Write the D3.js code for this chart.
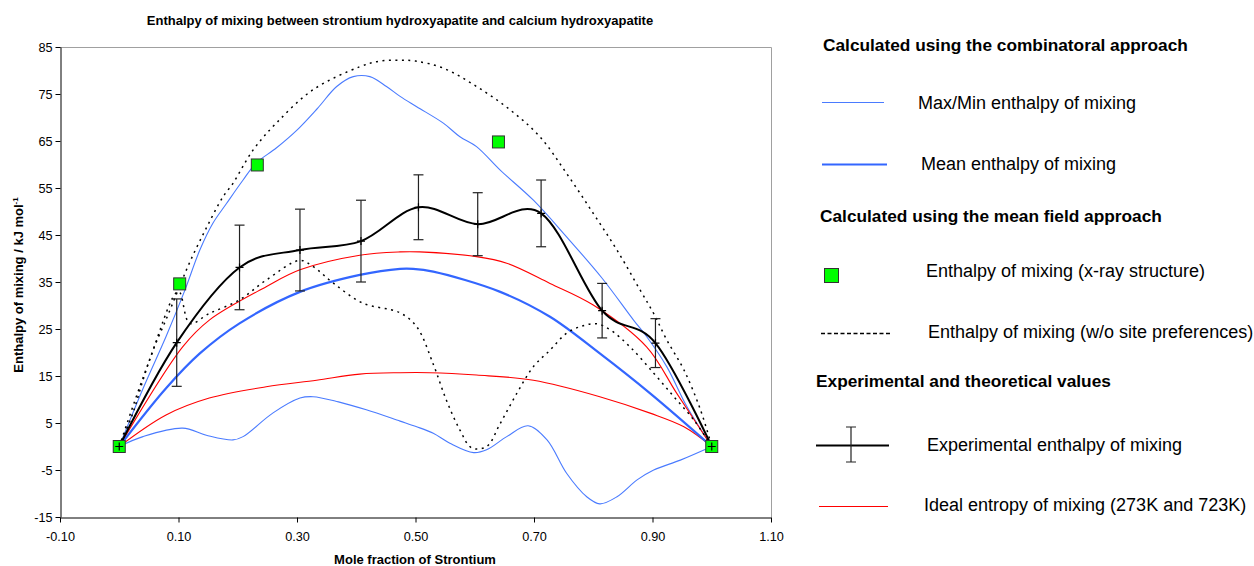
<!DOCTYPE html>
<html>
<head>
<meta charset="utf-8">
<script src="https://cdnjs.cloudflare.com/ajax/libs/d3/7.8.5/d3.min.js"></script>
<style>
  body { margin: 0; background: #fff; }
  svg { font-family: "Liberation Sans", Arial, sans-serif; }
</style>
</head>
<body>
<div id="chart"></div>
<script>
// values: [mole fraction Sr, enthalpy kJ/mol]
const maxLine = [[0,0],[0.04,12.3],[0.079,23.4],[0.11,33],[0.136,41.8],[0.158,47.5],[0.181,51.7],[0.209,56.7],
  [0.231,60.3],[0.265,63.5],[0.299,67.2],[0.335,72],[0.367,76.6],[0.395,78.7],[0.423,78.7],[0.451,76.6],
  [0.474,74.5],[0.502,72.3],[0.547,68.8],[0.575,65.9],[0.603,63.8],[0.643,58.8],[0.699,52.4],[0.755,44.6],
  [0.815,35.8],[0.868,26.9],[0.89,23.4],[0.924,17],[0.958,8.5],[1,0]];
const minLine = [[0,0],[0.04,2.1],[0.107,3.9],[0.147,2.4],[0.192,1.4],[0.209,2.1],[0.259,7.1],[0.305,10.3],
  [0.327,10.6],[0.37,9.5],[0.417,7.8],[0.474,5.4],[0.502,4.2],[0.53,2.8],[0.558,0.7],[0.598,-1.3],[0.62,-0.7],
  [0.654,2.1],[0.69,4.4],[0.722,1.4],[0.755,-5.7],[0.789,-10.7],[0.811,-12.2],[0.84,-10.7],[0.874,-7.1],
  [0.902,-5],[0.947,-2.9],[1,0]];
const meanLine = [[0,0],[0.079,12.4],[0.136,19.8],[0.203,26.2],[0.305,32.9],[0.406,36.5],[0.474,37.8],
  [0.496,37.8],[0.53,37.2],[0.643,32.9],[0.727,27.6],[0.811,19.8],[0.896,11.3],[1,0]];
const ideal723 = [[0,0],[0.107,21.2],[0.152,26.9],[0.248,34],[0.305,37.6],[0.406,40.7],[0.474,41.4],
  [0.507,41.4],[0.603,40.4],[0.654,39],[0.727,34.7],[0.8,30.1],[0.89,21.2],[0.941,11.3],[1,0]];
const ideal273 = [[0,0],[0.079,6.7],[0.152,10.3],[0.248,12.7],[0.333,14.1],[0.406,15.4],[0.474,15.7],
  [0.524,15.7],[0.603,15.2],[0.699,14.1],[0.811,10.6],[0.896,7.1],[0.953,4.2],[1,0]];
const dottedUpper = [[0,0],[0.023,7.1],[0.04,14.1],[0.057,20.5],[0.079,27],[0.1,33.5],[0.12,39.5],[0.147,46.5],
  [0.175,53.1],[0.192,56],[0.226,63.1],[0.265,68.8],[0.327,75.9],[0.406,80.8],[0.44,82],[0.47,82.2],[0.5,82],
  [0.547,80.5],[0.603,76.6],[0.66,71.6],[0.71,65.9],[0.755,58.1],[0.8,49.6],[0.84,41.8],[0.879,33.3],
  [0.902,28.3],[0.924,22.7],[0.953,16.3],[0.981,7.8],[1,0]];
const dottedLower = [[0,0],[0.05,18],[0.1,33],[0.119,26.2],[0.152,28.3],[0.203,31.2],[0.248,35.4],[0.305,39.6],
  [0.327,38.3],[0.361,34.8],[0.411,30.5],[0.473,28.5],[0.502,25.5],[0.53,17.5],[0.552,9.9],[0.575,3.5],
  [0.595,-0.3],[0.62,0],[0.643,4.9],[0.671,11.3],[0.699,17],[0.727,20.5],[0.755,24.1],[0.783,25.7],
  [0.806,26.1],[0.829,24.8],[0.862,21.2],[0.902,15.6],[0.936,10.6],[0.97,5.6],[1,0]];
const xrayX = [0, 0.102, 0.233, 0.64, 1];
const xrayY = [0, 34.6, 59.9, 64.8, 0];
const expX = [0, 0.097, 0.203, 0.305, 0.408, 0.505, 0.605, 0.712, 0.815, 0.905, 1];
const expY = [0, 22.1, 38.1, 41.8, 43.7, 50.9, 47.3, 49.6, 28.9, 22.0, 0];
const expErr = [0, 9.3, 9.0, 8.7, 8.7, 6.9, 6.7, 7.1, 5.8, 5.2, 0];
const xTicks = [-0.1, 0.1, 0.3, 0.5, 0.7, 0.9, 1.1];
const yTicks = [-15, -5, 5, 15, 25, 35, 45, 55, 65, 75, 85];

const svgWidth = 1254, svgHeight = 566;
const plot = { left: 60, top: 47, right: 771, bottom: 517 };

const svg = d3.select("#chart").append("svg")
  .attr("width", svgWidth)
  .attr("height", svgHeight);

const x = d3.scaleLinear().domain([-0.1, 1.1]).range([plot.left, plot.right]);
const y = d3.scaleLinear().domain([-15, 85]).range([plot.bottom, plot.top]);

// grey frame top and right
svg.append("path")
  .attr("d", `M${plot.left},${plot.top + 0.5}H${plot.right + 0.5}V${plot.bottom}`)
  .attr("fill", "none").attr("stroke", "#a0a0a0");

// axes
const yAxis = svg.append("g")
  .attr("transform", `translate(${plot.left + 0.5},0)`)
  .call(d3.axisLeft(y).tickValues(yTicks).tickSize(5).tickSizeOuter(0).tickPadding(3).tickFormat(d => String(d)));
const xAxis = svg.append("g")
  .attr("transform", `translate(0,${plot.bottom + 0.5})`)
  .call(d3.axisBottom(x).tickValues(xTicks).tickSize(5).tickSizeOuter(0).tickPadding(9).tickFormat(d => d.toFixed(2)));
[xAxis, yAxis].forEach(g => {
  g.selectAll("text").attr("font-size", 12.7).attr("fill", "#000")
    .attr("font-family", "Liberation Sans, Arial, sans-serif");
  g.selectAll("line,path").attr("stroke", "#000");
});

const line = d3.line().x(d => x(d[0])).y(d => y(d[1])).curve(d3.curveCatmullRom);
const g = svg.append("g");

g.append("path").datum(minLine).attr("d", line)
  .attr("fill", "none").attr("stroke", "#4a7bff").attr("stroke-width", 1.1);
g.append("path").datum(maxLine).attr("d", line)
  .attr("fill", "none").attr("stroke", "#4a7bff").attr("stroke-width", 1.1);
g.append("path").datum(ideal273).attr("d", line)
  .attr("fill", "none").attr("stroke", "#ff0000").attr("stroke-width", 1.1);
g.append("path").datum(ideal723).attr("d", line)
  .attr("fill", "none").attr("stroke", "#ff0000").attr("stroke-width", 1.1);
g.append("path").datum(meanLine).attr("d", line)
  .attr("fill", "none").attr("stroke", "#3366ff").attr("stroke-width", 2.2);
[dottedUpper, dottedLower].forEach(s => {
  g.append("path").datum(s).attr("d", line)
    .attr("fill", "none").attr("stroke", "#000").attr("stroke-width", 1.5)
    .attr("stroke-dasharray", "2,4.5");
});

// experimental series with error bars
const expData = expX.map((v, i) => ({ x: v, y: expY[i], e: expErr[i] }));
g.append("path").datum(expData)
  .attr("d", d3.line().x(d => x(d.x)).y(d => y(d.y)).curve(d3.curveCardinal.tension(0)))
  .attr("fill", "none").attr("stroke", "#000").attr("stroke-width", 2);

const bars = g.selectAll(".err").data(expData.filter(d => d.e > 0)).enter().append("g")
  .attr("stroke", "#222").attr("stroke-width", 1.2);
bars.append("line")
  .attr("x1", d => x(d.x)).attr("x2", d => x(d.x))
  .attr("y1", d => y(d.y + d.e)).attr("y2", d => y(d.y - d.e));
bars.append("line")
  .attr("x1", d => x(d.x) - 5).attr("x2", d => x(d.x) + 5)
  .attr("y1", d => y(d.y + d.e)).attr("y2", d => y(d.y + d.e));
bars.append("line")
  .attr("x1", d => x(d.x) - 5).attr("x2", d => x(d.x) + 5)
  .attr("y1", d => y(d.y - d.e)).attr("y2", d => y(d.y - d.e));

// x-ray squares
g.selectAll(".sq").data(xrayX.map((v, i) => [v, xrayY[i]])).enter().append("rect")
  .attr("x", d => x(d[0]) - 6).attr("y", d => y(d[1]) - 6)
  .attr("width", 12).attr("height", 12)
  .attr("fill", "#00ff00").attr("stroke", "#333").attr("stroke-width", 1);

// plus markers of experimental points
g.selectAll(".plus").data(expData).enter().append("path")
  .attr("d", d => `M${x(d.x) - 4},${y(d.y)}h8M${x(d.x)},${y(d.y) - 4}v8`)
  .attr("stroke", "#000").attr("stroke-width", 1.2);

// titles
svg.append("text").attr("x", 400).attr("y", 25).attr("text-anchor", "middle")
  .attr("font-size", 13).attr("font-weight", "bold")
  .text("Enthalpy of mixing between strontium hydroxyapatite and calcium hydroxyapatite");
svg.append("text").attr("x", 415).attr("y", 564).attr("text-anchor", "middle")
  .attr("font-size", 13).attr("font-weight", "bold").text("Mole fraction of Strontium");
const yl = svg.append("text")
  .attr("transform", "translate(23,285) rotate(-90)")
  .attr("text-anchor", "middle").attr("font-size", 13).attr("font-weight", "bold");
yl.append("tspan").text("Enthalpy of mixing / kJ mol");
yl.append("tspan").attr("font-size", 8).attr("dy", -5).text("-1");

// legend
const leg = svg.append("g").attr("font-size", 18);
function head(tx, ty, t) {
  leg.append("text").attr("x", tx).attr("y", ty).attr("font-weight", "bold").attr("font-size", 17.3).text(t);
}
function label(tx, ty, t) {
  leg.append("text").attr("x", tx).attr("y", ty).text(t);
}
head(823, 51, "Calculated using the combinatoral approach");
leg.append("line").attr("x1", 822).attr("x2", 884).attr("y1", 102.5).attr("y2", 102.5)
  .attr("stroke", "#4a7bff").attr("stroke-width", 1.1);
label(918, 109, "Max/Min enthalpy of mixing");
leg.append("line").attr("x1", 822).attr("x2", 887).attr("y1", 164.5).attr("y2", 164.5)
  .attr("stroke", "#3366ff").attr("stroke-width", 2.2);
label(921, 170, "Mean enthalpy of mixing");
head(820, 222, "Calculated using the mean field approach");
leg.append("rect").attr("x", 824.5).attr("y", 268.5).attr("width", 14).attr("height", 14)
  .attr("fill", "#00ff00").attr("stroke", "#333");
label(926, 277, "Enthalpy of mixing (x-ray structure)");
leg.append("line").attr("x1", 821).attr("x2", 892).attr("y1", 333.5).attr("y2", 333.5)
  .attr("stroke", "#000").attr("stroke-width", 1.5).attr("stroke-dasharray", "4,2.5");
label(928, 338, "Enthalpy of mixing (w/o site preferences)");
head(816, 387, "Experimental and theoretical values");
leg.append("line").attr("x1", 816).attr("x2", 889).attr("y1", 445.5).attr("y2", 445.5)
  .attr("stroke", "#000").attr("stroke-width", 2);
leg.append("path").attr("d", "M851,427V462M846,427h10M846,462h10")
  .attr("stroke", "#222").attr("stroke-width", 1.2);
label(927, 451, "Experimental enthalpy of mixing");
leg.append("line").attr("x1", 819).attr("x2", 888).attr("y1", 506.5).attr("y2", 506.5)
  .attr("stroke", "#ff0000").attr("stroke-width", 1.1);
label(924, 511, "Ideal entropy of mixing (273K and 723K)");
</script>
</body>
</html>
